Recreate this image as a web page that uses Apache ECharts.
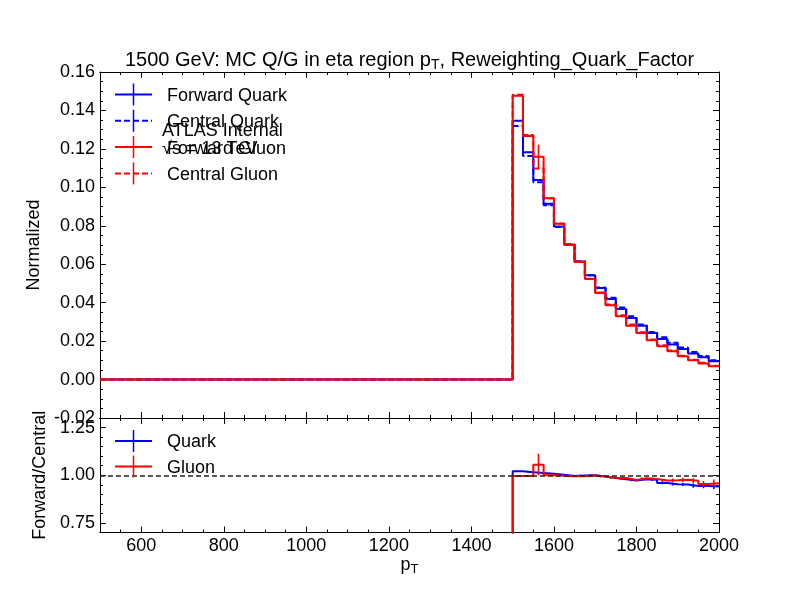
<!DOCTYPE html>
<html>
<head>
<meta charset="utf-8">
<script src="https://cdn.jsdelivr.net/npm/echarts@6/dist/echarts.min.js"></script>
<style>
  html, body { margin: 0; padding: 0; background: #fff; }
  #chart { width: 799px; height: 599px; }
</style>
</head>
<body>
<div id="chart"></div>
<script>
// bin low edges (25 GeV bins), everything below 1500 is empty
var binLow = [1500, 1525, 1550, 1575, 1600, 1625, 1650, 1675, 1700, 1725,
              1750, 1775, 1800, 1825, 1850, 1875, 1900, 1925, 1950, 1975];
var binWidth = 25;
var xStart = 500, xEnd = 2000;

var forwardQuark = [0.1346, 0.1182, 0.1038, 0.0914, 0.0796, 0.0701, 0.0614, 0.0542, 0.0476, 0.0419,
                    0.0367, 0.0320, 0.0280, 0.0242, 0.0211, 0.0182, 0.0159, 0.0135, 0.0116, 0.0095];
var centralQuark = [0.1319, 0.1163, 0.1026, 0.0907, 0.0794, 0.0704, 0.0615, 0.0542, 0.0479, 0.0425,
                    0.0375, 0.0329, 0.0286, 0.0248, 0.0220, 0.0191, 0.0167, 0.0143, 0.0123, 0.0101];
var forwardGluon = [0.1476, 0.1267, 0.1159, 0.0943, 0.0810, 0.0701, 0.0611, 0.0523, 0.0450, 0.0386,
                    0.0329, 0.0280, 0.0242, 0.0204, 0.0173, 0.0147, 0.0121, 0.0100, 0.0083, 0.0069];
var centralGluon = [0.1482, 0.1272, 0.1098, 0.0943, 0.0812, 0.0705, 0.0614, 0.0524, 0.0453, 0.0391,
                    0.0334, 0.0287, 0.0246, 0.0208, 0.0178, 0.0151, 0.0124, 0.0103, 0.0087, 0.0072];

// statistical errors (mostly too small to see)
var forwardQuarkErr = [0.0003, 0.0003, 0.0003, 0.0002, 0.0002, 0.0002, 0.0002, 0.0002, 0.0002, 0.0001,
                       0.0001, 0.0001, 0.0001, 0.0001, 0.0001, 0.0001, 0.0001, 0.0001, 0.0001, 0.0001];
var centralQuarkErr = [0.0002, 0.0002, 0.0002, 0.0002, 0.0002, 0.0001, 0.0001, 0.0001, 0.0001, 0.0001,
                       0.0001, 0.0001, 0.0001, 0.0001, 0.0001, 0.0001, 0.0001, 0.0001, 0.0001, 0.0001];
var forwardGluonErr = [0.0004, 0.0004, 0.0063, 0.0003, 0.0003, 0.0003, 0.0002, 0.0002, 0.0002, 0.0002,
                       0.0002, 0.0001, 0.0001, 0.0001, 0.0001, 0.0001, 0.0001, 0.0001, 0.0001, 0.0001];
var centralGluonErr = [0.0003, 0.0003, 0.0003, 0.0002, 0.0002, 0.0002, 0.0002, 0.0001, 0.0001, 0.0001,
                       0.0001, 0.0001, 0.0001, 0.0001, 0.0001, 0.0001, 0.0001, 0.0001, 0.0001, 0.0001];

var xTicks = [600, 800, 1000, 1200, 1400, 1600, 1800, 2000];
var ratioTicks = [0.75, 1.00, 1.25];

var FONT = 'Liberation Sans, Arial, Helvetica, sans-serif';
var FS = 18;
var BLUE = '#0000ff', RED = '#ff0000';

// ratio forward / central and its error
function ratio(f, c) {
  return f.map(function (v, i) { return v / c[i]; });
}
function ratioErr(f, fe, c, ce) {
  return f.map(function (v, i) {
    var r = v / c[i];
    return r * Math.sqrt(Math.pow(fe[i] / v, 2) + Math.pow(ce[i] / c[i], 2));
  });
}
var quarkRatio = ratio(forwardQuark, centralQuark);
var gluonRatio = ratio(forwardGluon, centralGluon);
var quarkRatioErr = ratioErr(forwardQuark, forwardQuarkErr, centralQuark, centralQuarkErr);
var gluonRatioErr = ratioErr(forwardGluon, forwardGluonErr, centralGluon, centralGluonErr);

// step line points: empty region first, then one point per bin edge
function histPoints(vals) {
  var pts = [[xStart, 0]];
  binLow.forEach(function (x, i) { pts.push([x, vals[i]]); });
  pts.push([binLow[binLow.length - 1] + binWidth, vals[vals.length - 1]]);
  return pts;
}
function errPoints(vals, errs) {
  return binLow.map(function (x, i) { return [x + binWidth / 2, vals[i], errs[i]]; });
}

function histSeries(name, vals, color, dashed, xi, yi, z) {
  return {
    name: name, type: 'line', step: 'end', xAxisIndex: xi, yAxisIndex: yi,
    data: histPoints(vals), symbol: 'none', showSymbol: false, z: z,
    lineStyle: { color: color, width: 2, type: dashed ? [6, 3] : 'solid' },
    animation: false, silent: true
  };
}
function errSeries(vals, errs, color, xi, yi, z) {
  return {
    type: 'custom', xAxisIndex: xi, yAxisIndex: yi, clip: true, z: z, silent: true,
    data: errPoints(vals, errs),
    renderItem: function (params, api) {
      var x = api.value(0), y = api.value(1), e = api.value(2);
      var a = api.coord([x, y - e]), b = api.coord([x, y + e]);
      return { type: 'line', shape: { x1: a[0], y1: a[1], x2: b[0], y2: b[1] },
               style: { stroke: color, lineWidth: 1.5 } };
    },
    animation: false
  };
}

var lineAx = { show: true, onZero: false, lineStyle: { color: '#000', width: 1 } };

function xAx(grid, pos, major, labels, extra) {
  var a = {
    type: 'value', gridIndex: grid, position: pos, min: xStart, max: xEnd,
    axisLine: lineAx, splitLine: { show: false },
    axisTick: { show: true, inside: true, length: major ? 6 : 3, lineStyle: { color: '#000' } },
    axisLabel: { show: labels, color: '#000', fontFamily: FONT, fontSize: FS, margin: 5,
      formatter: function (v) { return String(v); } }
  };
  if (major) {
    a.axisTick.customValues = xTicks;
    a.axisLabel.customValues = xTicks;
  } else {
    a.interval = 50;
    a.axisLabel.show = false;
  }
  return Object.assign(a, extra || {});
}

var option = {
  backgroundColor: '#fff',
  animation: false,
  grid: [
    { left: 100, top: 72, width: 619, height: 346 },
    { left: 100, top: 418, width: 619, height: 114.5 }
  ],
  xAxis: [
    xAx(0, 'bottom', true, false),
    xAx(0, 'top', true, false),
    xAx(0, 'bottom', false, false),
    xAx(0, 'top', false, false),
    xAx(1, 'bottom', true, true, {
      name: 'p{s|T}', nameLocation: 'middle', nameGap: 20,
      nameTextStyle: { color: '#000', fontFamily: FONT, fontSize: FS,
        rich: { s: { fontFamily: FONT, fontSize: 13, color: '#000', padding: [9, 0, 0, 0] } } }
    }),
    xAx(1, 'top', true, false),
    xAx(1, 'bottom', false, false),
    xAx(1, 'top', false, false)
  ],
  yAxis: [
    {
      type: 'value', gridIndex: 0, position: 'left', min: -0.02, max: 0.16, interval: 0.02,
      axisLine: lineAx, splitLine: { show: false },
      axisTick: { show: true, inside: true, length: 6, lineStyle: { color: '#000' } },
      minorTick: { show: true, splitNumber: 4, length: 3, lineStyle: { color: '#000' } },
      axisLabel: { color: '#000', fontFamily: FONT, fontSize: FS, margin: 5,
        showMinLabel: true, showMaxLabel: true,
        formatter: function (v) { return v.toFixed(2); } },
      name: 'Normalized', nameLocation: 'middle', nameGap: 54,
      nameTextStyle: { color: '#000', fontFamily: FONT, fontSize: FS }
    },
    {
      type: 'value', gridIndex: 0, position: 'right', min: -0.02, max: 0.16, interval: 0.02,
      axisLine: lineAx, splitLine: { show: false },
      axisTick: { show: true, inside: true, length: 6, lineStyle: { color: '#000' } },
      minorTick: { show: true, splitNumber: 4, length: 3, lineStyle: { color: '#000' } },
      axisLabel: { show: false }
    },
    {
      type: 'value', gridIndex: 1, position: 'left', min: 0.7, max: 1.3,
      axisLine: lineAx, splitLine: { show: false },
      axisTick: { show: true, inside: true, length: 6, customValues: ratioTicks, lineStyle: { color: '#000' } },
      axisLabel: { color: '#000', fontFamily: FONT, fontSize: FS, margin: 5, customValues: ratioTicks,
        formatter: function (v) { return v.toFixed(2); } },
      name: 'Forward/Central', nameLocation: 'middle', nameGap: 46,
      nameTextStyle: { color: '#000', fontFamily: FONT, fontSize: FS }
    },
    {
      type: 'value', gridIndex: 1, position: 'right', min: 0.7, max: 1.3,
      axisLine: lineAx, splitLine: { show: false },
      axisTick: { show: true, inside: true, length: 6, customValues: ratioTicks, lineStyle: { color: '#000' } },
      axisLabel: { show: false, customValues: ratioTicks }
    },
    {
      type: 'value', gridIndex: 1, position: 'left', min: 0.7, max: 1.3, interval: 0.05,
      axisLine: lineAx, splitLine: { show: false },
      axisTick: { show: true, inside: true, length: 3, lineStyle: { color: '#000' } },
      axisLabel: { show: false }
    },
    {
      type: 'value', gridIndex: 1, position: 'right', min: 0.7, max: 1.3, interval: 0.05,
      axisLine: lineAx, splitLine: { show: false },
      axisTick: { show: true, inside: true, length: 3, lineStyle: { color: '#000' } },
      axisLabel: { show: false }
    }
  ],
  series: [
    histSeries('Forward Quark', forwardQuark, BLUE, false, 0, 0, 2),
    errSeries(forwardQuark, forwardQuarkErr, BLUE, 0, 0, 2),
    histSeries('Central Quark', centralQuark, BLUE, true, 0, 0, 3),
    errSeries(centralQuark, centralQuarkErr, BLUE, 0, 0, 3),
    histSeries('Forward Gluon', forwardGluon, RED, false, 0, 0, 4),
    errSeries(forwardGluon, forwardGluonErr, RED, 0, 0, 4),
    histSeries('Central Gluon', centralGluon, RED, true, 0, 0, 5),
    errSeries(centralGluon, centralGluonErr, RED, 0, 0, 5),

    histSeries('Quark', quarkRatio, BLUE, false, 4, 2, 2),
    errSeries(quarkRatio, quarkRatioErr, BLUE, 4, 2, 2),
    histSeries('Gluon', gluonRatio, RED, false, 4, 2, 3),
    errSeries(gluonRatio, gluonRatioErr, RED, 4, 2, 3),
    {
      type: 'line', xAxisIndex: 4, yAxisIndex: 2, data: [], z: 6,
      markLine: {
        silent: true, symbol: 'none', animation: false, label: { show: false },
        lineStyle: { color: '#222', width: 1.5, type: [5, 3] },
        data: [{ yAxis: 1.0 }]
      }
    }
  ],
  graphic: []
};

// title
option.graphic.push({
  type: 'text', x: 409.5, y: 60, z: 10,
  style: {
    text: '1500 GeV: MC Q/G in eta region p{s|T}, Reweighting_Quark_Factor',
    font: '20px ' + FONT, fill: '#000',
    align: 'center', verticalAlign: 'middle', textAlign: 'center', textVerticalAlign: 'middle',
    rich: { s: { fontFamily: FONT, fontSize: 14, fill: '#000', padding: [10, 0, 0, 0] } }
  }
});

// legends (handle = line with error-bar cross)
function legendEntry(label, color, dashed, y) {
  option.graphic.push({
    type: 'line', z: 10, shape: { x1: 115, y1: y, x2: 152, y2: y },
    style: { stroke: color, lineWidth: 2, lineDash: dashed ? [6, 3] : null }
  });
  option.graphic.push({
    type: 'line', z: 10, shape: { x1: 133.5, y1: y - 11, x2: 133.5, y2: y + 11 },
    style: { stroke: color, lineWidth: 1.5 }
  });
  option.graphic.push({
    type: 'text', z: 10, x: 167, y: y + 1.5,
    style: { text: label, font: FS + 'px ' + FONT, fill: '#000',
      align: 'left', verticalAlign: 'middle', textAlign: 'left', textVerticalAlign: 'middle' }
  });
}
legendEntry('Forward Quark', BLUE, false, 94.5);
legendEntry('Central Quark', BLUE, true, 120.8);
legendEntry('Forward Gluon', RED, false, 147.1);
legendEntry('Central Gluon', RED, true, 173.4);
legendEntry('Quark', BLUE, false, 441);
legendEntry('Gluon', RED, false, 466.5);

option.graphic.push({
  type: 'text', z: 11, x: 162, y: 131,
  style: { text: 'ATLAS Internal', font: FS + 'px ' + FONT, fill: '#000',
    align: 'left', verticalAlign: 'middle', textAlign: 'left', textVerticalAlign: 'middle' }
});
option.graphic.push({
  type: 'text', z: 11, x: 162, y: 149,
  style: { text: '\u221As = 13 TeV', font: FS + 'px ' + FONT, fill: '#000',
    align: 'left', verticalAlign: 'middle', textAlign: 'left', textVerticalAlign: 'middle' }
});

var myChart = echarts.init(document.getElementById('chart'));
myChart.setOption(option);
</script>
</body>
</html>
